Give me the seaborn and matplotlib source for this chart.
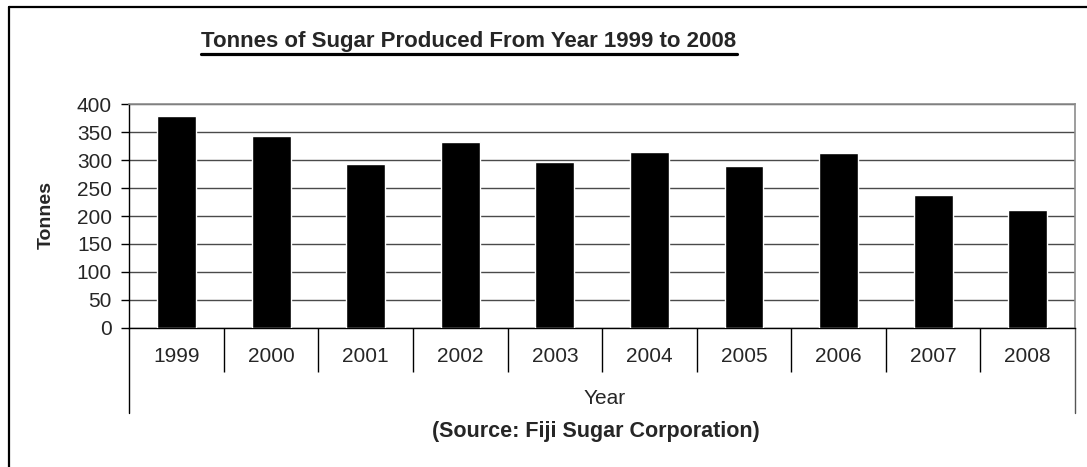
import matplotlib
matplotlib.use("Agg")
import matplotlib.pyplot as plt
from matplotlib.lines import Line2D
import seaborn as sns
import pandas as pd

years = ["1999", "2000", "2001", "2002", "2003", "2004", "2005", "2006", "2007", "2008"]
tonnes = [379, 343, 293, 332, 296, 315, 290, 313, 237, 210]
y_ticks = [0, 50, 100, 150, 200, 250, 300, 350, 400]

sns.set_style("white")
plt.rcParams['font.family'] = ['Liberation Sans', 'DejaVu Sans']

W, H = 1087, 467
fig = plt.figure(figsize=(W / 100, H / 100), dpi=100)
ax = fig.add_axes([129.3 / W, 1 - 327.7 / H, (1075 - 129.3) / W, (327.7 - 104.3) / H])

df = pd.DataFrame({"Year": years, "Tonnes": tonnes})
sns.barplot(data=df, x="Year", y="Tonnes", color="black", saturation=1,
            width=0.41, ax=ax, zorder=3)

ax.set_ylim(0, 400)
ax.set_xlim(-0.5, len(years) - 0.5)
ax.set_yticks(y_ticks)
ax.set_yticklabels([str(v) for v in y_ticks], fontsize=15)
ax.set_xticks(range(len(years)))
ax.set_xticklabels(years, fontsize=15)
ax.set_xlabel("")
ax.set_ylabel("")

# gridlines
ax.grid(axis="y", color="#4a4a4a", linewidth=1.0, zorder=0)
ax.grid(axis="x", visible=False)

# spines
for s in ["top", "right"]:
    ax.spines[s].set_color("#8c8c8c")
    ax.spines[s].set_linewidth(1.2)
ax.spines["left"].set_color("black")
ax.spines["bottom"].set_color("black")
ax.spines["left"].set_linewidth(1.0)
ax.spines["bottom"].set_linewidth(1.0)

ax.tick_params(axis="y", direction="out", length=5.5, width=1, color="black", pad=7, left=True)
ax.tick_params(axis="x", which="major", length=0, pad=14)
# category separators
bounds = [i - 0.5 for i in range(1, len(years))]
ax.set_xticks(bounds, minor=True)
ax.tick_params(axis="x", which="minor", direction="out", length=44 * 0.72, width=1, color="black", bottom=True)

# multi-level axis outer lines
tr = ax.get_xaxis_transform()
for xb in [-0.5, len(years) - 0.5]:
    ax.add_line(Line2D([xb, xb], [0, -0.382], transform=tr, color="black" if xb < 0 else "#555555",
                       linewidth=1.0, clip_on=False))

# labels
fig.text(46 / W, 1 - 215 / H, "Tonnes", rotation=90, ha="center", va="center",
         fontsize=14, fontweight="bold")
fig.text(605 / W, 1 - 398 / H, "Year", ha="center", va="center", fontsize=15)
fig.text(595.5 / W, 1 - 432 / H, "(Source: Fiji Sugar Corporation)", ha="center", va="center",
         fontsize=15.5, fontweight="bold")
title = fig.text(469 / W, 1 - 47 / H, "Tonnes of Sugar Produced From Year 1999 to 2008",
                 ha="center", va="baseline", fontsize=16, fontweight="bold")

# underline the title
fig.canvas.draw()
bb = title.get_window_extent(renderer=fig.canvas.get_renderer())
uy = 1 - 53.5 / H
fig.add_artist(Line2D([bb.x0 / W, bb.x1 / W], [uy, uy], transform=fig.transFigure,
                      color="black", linewidth=2.3))

# outer chart frame (left and top visible)
fig.add_artist(Line2D([9.3 / W, 9.3 / W], [0, 1 - 7.3 / H], transform=fig.transFigure,
                      color="black", linewidth=1.6))
fig.add_artist(Line2D([9.3 / W, 1], [1 - 7.3 / H, 1 - 7.3 / H], transform=fig.transFigure,
                      color="black", linewidth=1.6))

fig.savefig("out.png", dpi=100)
